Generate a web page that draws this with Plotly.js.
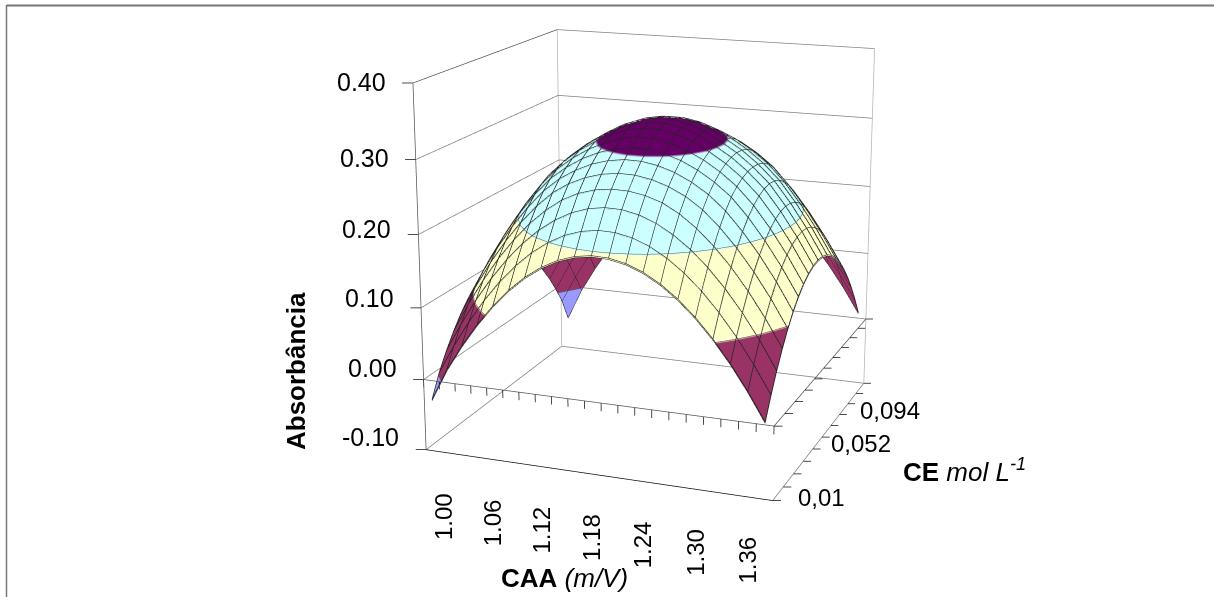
<!DOCTYPE html>
<html><head><meta charset="utf-8"><script src="https://cdn.plot.ly/plotly-3.0.1.min.js"></script>
<style>html,body{margin:0;padding:0;background:#fff;overflow:hidden;width:1214px;height:597px}
#wrap{position:absolute;left:0;top:0;width:1214px;height:597px;overflow:hidden}
#c{position:absolute;left:-1px;top:-522px;width:1313px;height:1533px}</style></head><body><div id="wrap"><div id="c"></div></div>
<script>
// categories
var caa=[1.00,1.02,1.04,1.06,1.08,1.10,1.12,1.14,1.16,1.18,1.20,1.22,1.24,1.26,1.28,1.30,1.32,1.34,1.36,1.38,1.40];
var ce=[0.010,0.016,0.022,0.028,0.034,0.040,0.046,0.052,0.058,0.064,0.070,0.076,0.082,0.088,0.094,0.100,0.106,0.112,0.118,0.124,0.130];
// absorbance, one row per CE level
var z_ce010=[-0.028,0.0163,0.0525,0.0845,0.1125,0.1364,0.1562,0.1718,0.1834,0.1909,0.1943,0.1935,0.1887,0.1798,0.1668,0.1496,0.1284,0.1031,0.0737,0.0401,0.0025];
var z_ce016=[0.0025,0.0428,0.0791,0.1112,0.1392,0.1631,0.183,0.1987,0.2104,0.2179,0.2214,0.2207,0.216,0.2071,0.1942,0.1771,0.156,0.1306,0.1013,0.0678,0.0303];
var z_ce022=[0.026,0.0664,0.1027,0.1349,0.163,0.1871,0.207,0.2228,0.2345,0.2421,0.2456,0.245,0.2403,0.2315,0.2186,0.2017,0.1806,0.1554,0.1261,0.0927,0.0552];
var z_ce028=[0.0466,0.0872,0.1235,0.1558,0.1839,0.2081,0.228,0.2439,0.2548,0.2614,0.2644,0.2639,0.26,0.2526,0.2402,0.2233,0.2023,0.1772,0.1479,0.1146,0.0772];
var z_ce034=[0.0644,0.105,0.1414,0.1737,0.202,0.2261,0.2462,0.2603,0.2704,0.2769,0.2801,0.2797,0.2758,0.2684,0.2576,0.2421,0.2211,0.1961,0.1669,0.1337,0.0963];
var z_ce040=[0.0793,0.1198,0.1564,0.1888,0.2171,0.2413,0.2598,0.2733,0.2835,0.29,0.2933,0.2929,0.2891,0.2818,0.271,0.2567,0.2371,0.212,0.183,0.1498,0.1125];
var z_ce046=[0.0912,0.1319,0.1685,0.2009,0.2293,0.2531,0.2702,0.2839,0.294,0.3007,0.3045,0.3042,0.3,0.2927,0.282,0.2678,0.25,0.2252,0.1961,0.163,0.1258];
var z_ce052=[0.1002,0.141,0.1776,0.2102,0.2386,0.261,0.2782,0.292,0.3024,0.3104,0.3142,0.314,0.3096,0.3012,0.2905,0.2763,0.2587,0.2354,0.2064,0.1734,0.1362];
var z_ce058=[0.1064,0.1472,0.1839,0.2166,0.2451,0.2666,0.2838,0.2976,0.3091,0.3171,0.321,0.3209,0.3166,0.3082,0.2965,0.2824,0.2648,0.2427,0.2138,0.1808,0.1437];
var z_ce064=[0.1097,0.1505,0.1873,0.22,0.2486,0.2695,0.287,0.3007,0.3129,0.321,0.325,0.3248,0.3207,0.3123,0.2999,0.286,0.2685,0.247,0.2183,0.1853,0.1483];
var z_ce070=[0.11,0.151,0.1878,0.2206,0.2492,0.2702,0.2876,0.3016,0.3138,0.322,0.326,0.326,0.3218,0.3136,0.3012,0.2872,0.2697,0.2486,0.2198,0.187,0.15];
var z_ce076=[0.1074,0.1485,0.1854,0.2182,0.2469,0.2684,0.2857,0.2997,0.3118,0.32,0.3241,0.3242,0.32,0.3119,0.2996,0.2859,0.2684,0.2472,0.2184,0.1857,0.1488];
var z_ce082=[0.102,0.1431,0.1801,0.213,0.2417,0.2639,0.2815,0.2955,0.3069,0.3152,0.3194,0.3195,0.3154,0.3073,0.296,0.2821,0.2648,0.2429,0.2142,0.1815,0.1447];
var z_ce088=[0.0937,0.1348,0.1719,0.2048,0.2337,0.2571,0.2747,0.2888,0.2994,0.3074,0.3117,0.3118,0.3079,0.2998,0.2897,0.2758,0.2586,0.2356,0.2071,0.1744,0.1377];
var z_ce094=[0.0824,0.1236,0.1607,0.1938,0.2227,0.2475,0.2655,0.2796,0.2903,0.297,0.3011,0.3013,0.298,0.2912,0.2809,0.2672,0.2499,0.2255,0.1971,0.1645,0.1278];
var z_ce100=[0.0682,0.1096,0.1467,0.1798,0.2088,0.2337,0.2537,0.268,0.2787,0.2859,0.2896,0.2898,0.2866,0.2799,0.2697,0.256,0.2368,0.2126,0.1841,0.1516,0.115];
var z_ce106=[0.0512,0.0926,0.1298,0.163,0.192,0.217,0.2378,0.2539,0.2646,0.2719,0.2758,0.2761,0.2729,0.2662,0.256,0.241,0.2209,0.1966,0.1683,0.1359,0.0993];
var z_ce112=[0.0313,0.0727,0.11,0.1433,0.1724,0.1974,0.2183,0.2352,0.2479,0.2555,0.2594,0.2598,0.2565,0.25,0.2381,0.2222,0.202,0.1779,0.1496,0.1173,0.0807];
var z_ce118=[0.0084,0.0499,0.0873,0.1206,0.1498,0.1749,0.1958,0.2127,0.2255,0.2342,0.2388,0.2393,0.2357,0.228,0.2162,0.2003,0.1802,0.1561,0.1279,0.0956,0.0592];
var z_ce124=[-0.0174,0.0242,0.0616,0.095,0.1243,0.1495,0.1705,0.1875,0.2003,0.2091,0.2137,0.2143,0.2107,0.2031,0.1913,0.1755,0.1555,0.1316,0.1034,0.0712,0.0348];
var z_ce130=[-0.052,-0.0044,0.0332,0.0666,0.0959,0.1211,0.1423,0.1593,0.1722,0.181,0.1858,0.1864,0.1829,0.1753,0.1637,0.1479,0.128,0.104,0.076,0.0438,0.0075];
var zRows=[z_ce010,z_ce016,z_ce022,z_ce028,z_ce034,z_ce040,z_ce046,z_ce052,z_ce058,z_ce064,z_ce070,z_ce076,z_ce082,z_ce088,z_ce094,z_ce100,z_ce106,z_ce112,z_ce118,z_ce124,z_ce130];
var zTicks=[-0.10,0.00,0.10,0.20,0.30,0.40];
var zLabels=['-0.10','0.00','0.10','0.20','0.30','0.40'];
var xLabels=['1.00','1.06','1.12','1.18','1.24','1.30','1.36'];
var xLabelValues=[1.00,1.06,1.12,1.18,1.24,1.30,1.36];
var yLabels=['0,01','0,052','0,094'];
var yLabelValues=[0.01,0.052,0.094];
var bandColors=['#9999FF','#993366','#FFFFCC','#CCFFFF','#660066'];

var W=1313,H=1533,TOP=-522,LEFT=-1;
function px(x){return (x-LEFT)/W;}
function py(y){return 1-(y-TOP)/H;}
var xl=0.99,xr=1.41,yl=0.01,yr=0.13,zl=-0.1,zr=0.4;
function seg(list){var a={x:[],y:[],z:[]};list.forEach(function(s){a.x.push(s[0],s[3],null);a.y.push(s[1],s[4],null);a.z.push(s[2],s[5],null);});return a;}
function lines(list,color,width){var a=seg(list);return {type:'scatter3d',mode:'lines',x:a.x,y:a.y,z:a.z,line:{color:color,width:width},hoverinfo:'skip',showlegend:false};}
function mesh(lift){
  var a={x:[],y:[],z:[]};
  zRows.forEach(function(r,j){r.forEach(function(v,i){a.x.push(caa[i]);a.y.push(ce[j]);a.z.push(v+lift);});a.x.push(null);a.y.push(null);a.z.push(null);});
  caa.forEach(function(c,i){zRows.forEach(function(r,j){a.x.push(c);a.y.push(ce[j]);a.z.push(r[i]+lift);});a.x.push(null);a.y.push(null);a.z.push(null);});
  return {type:'scatter3d',mode:'lines',x:a.x,y:a.y,z:a.z,line:{color:'#222222',width:1.2},hoverinfo:'skip',showlegend:false};
}
var dark=[[xl,yl,zl,xr,yl,zl]];
var midDark=[[xl,yl,zl,xl,yl,zr],[xl,yl,0,xr,yl,0],[xr,yl,0,xr,yr,0],[xl,yl,zr,xl,yr,zr]];
var gray=[[xr,yl,zl,xr,yr,zl],[xl,yr,zr,xr,yr,zr]];
var light=[[xl,yl,zl,xl,yr,zl],[xl,yr,zl,xl,yr,zr],[xr,yr,zl,xr,yr,zr]];
zTicks.forEach(function(t){
  if(t<zr) gray.push([xl,yl,t,xl,yr,t]);
  if(t<zr) gray.push([xl,yr,t,xr,yr,t]);
  dark.push([xl,yl,t,xl-0.0113,yl-0.0012,t]);
});
caa.concat([1.42]).forEach(function(v){var tx=v-0.01;dark.push([tx,yl,0,tx,yl,-0.011]);});
ce.forEach(function(v,i){ if(i%2) return;
  dark.push([xr,v,0,xr+0.0085,v+0.00094,0]);
  dark.push([xr,v,zl,xr+0.0085,v+0.00094,zl]);
});
var surface={type:'surface',x:caa,y:ce,z:zRows,
 cmin:-0.1,cmax:0.4,showscale:false,hoverinfo:'skip',
 colorscale:[[0,bandColors[0]],[0.2,bandColors[0]],[0.2,bandColors[1]],[0.4,bandColors[1]],[0.4,bandColors[2]],[0.6,bandColors[2]],[0.6,bandColors[3]],[0.8,bandColors[3]],[0.8,bandColors[4]],[1,bandColors[4]]],
 lighting:{ambient:1,diffuse:0,specular:0,roughness:1,fresnel:0},
 contours:{z:{show:true,start:0,end:0.3,size:0.1,color:'#555555',width:1,highlight:false}}};
var FONT='"Liberation Sans", Arial, sans-serif';
var sceneAnn=[];
var zShift=[13,12,10,6,2,1];
zTicks.forEach(function(t,i){sceneAnn.push({x:xl,y:yl,z:t,text:zLabels[i],showarrow:false,xanchor:'right',yanchor:'middle',xshift:-25,yshift:zShift[i],font:{family:FONT,size:25,color:'#000'}});});
xLabelValues.forEach(function(v,i){sceneAnn.push({x:v,y:yl,z:zl,text:xLabels[i],textangle:-90,showarrow:false,xanchor:'center',yanchor:'top',xshift:10+1.5*i,yshift:-40,font:{family:FONT,size:24,color:'#000'}});});
var yLabelDx=[23,21,18],yLabelDy=[3,12,4];
yLabelValues.forEach(function(v,i){sceneAnn.push({x:xr,y:v,z:zl,text:yLabels[i],showarrow:false,xanchor:'left',yanchor:'middle',xshift:yLabelDx[i],yshift:yLabelDy[i],font:{family:FONT,size:24,color:'#000'}});});
function note(x,y,text,angle){return {xref:'paper',yref:'paper',x:px(x),y:py(y),text:text,textangle:angle||0,showarrow:false,xanchor:'center',yanchor:'middle',font:{family:FONT,size:26,color:'#000'}};}
var layout={width:W,height:H,margin:{l:0,r:0,t:0,b:0,pad:0},paper_bgcolor:'#fff',showlegend:false,
 annotations:[note(296,371,'<b>Absorbância</b>',-90),note(564,578,'<b>CAA</b> <i>(m/V)</i>'),note(964,470,'<b>CE</b> <i>mol L<sup>-1</sup></i>')],
 shapes:[{type:'line',xref:'paper',yref:'paper',x0:px(6.5),x1:px(1214),y0:py(5.5),y1:py(5.5),line:{color:'#777',width:2}},
         {type:'line',xref:'paper',yref:'paper',x0:px(6.5),x1:px(6.5),y0:py(5),y1:py(597),line:{color:'#777',width:1.5}}],
 scene:{domain:{x:[0,1],y:[0,1]},bgcolor:'#fff',
  xaxis:{visible:false,range:[0.9564,1.4436]},
  yaxis:{visible:false,range:[0.0004,0.1396]},
  zaxis:{visible:false,range:[-0.125,0.425]},
  aspectmode:'manual',aspectratio:{x:1.174,y:1.113,z:1.144},
  camera:{eye:{x:1.786,y:-4.782,z:1.426},center:{x:0,y:0,z:0},up:{x:0,y:0,z:1}},
  annotations:sceneAnn}};
Plotly.newPlot('c',[surface,mesh(0.0015),mesh(-0.0003),lines(light,'#b4b4b4',1.5),lines(gray,'#808080',1.5),lines(midDark,'#555555',1.5),lines(dark,'#111111',1.5)],layout,{displayModeBar:false});
</script></body></html>
